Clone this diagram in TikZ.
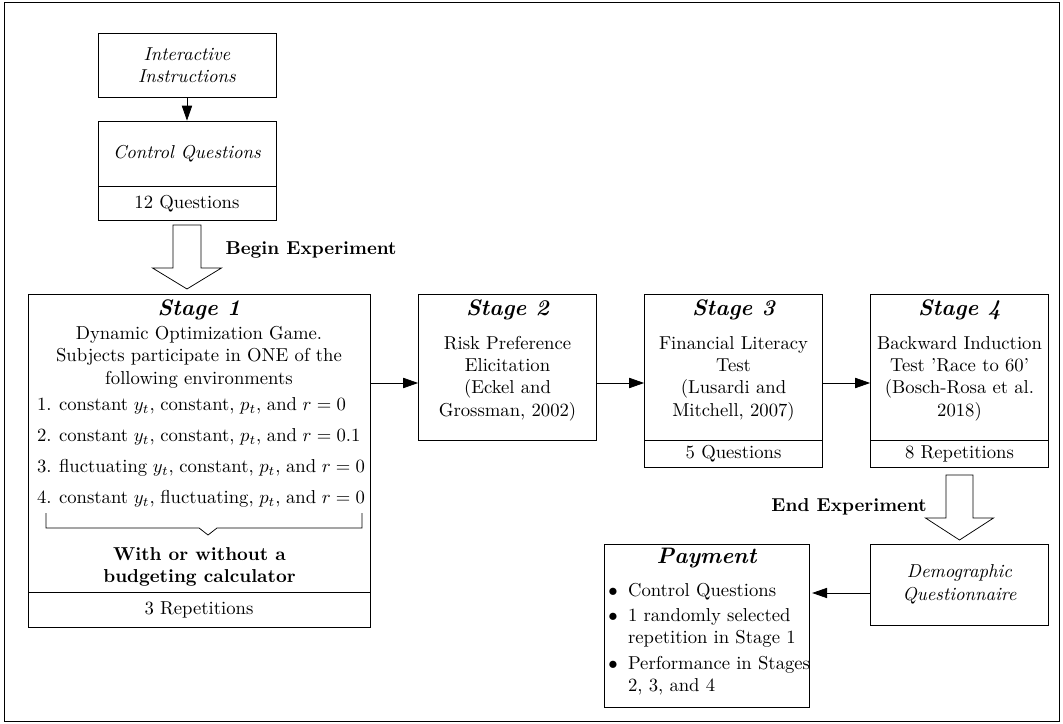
\documentclass[tikz,border=0pt]{standalone}
\usepackage{amsmath}
\usepackage{amssymb}
\usepackage{tikz}
\usetikzlibrary{arrows.meta,positioning}

\begin{document}
\begin{tikzpicture}[>={Triangle[length=8pt,width=5.5pt]},
  box/.style={draw, inner sep=0pt, align=center, minimum width=3.35cm},
  foot/.style={draw, inner sep=0pt, align=center},
  stagetitle/.style={font=\large\bfseries\itshape},
  bigarrow/.style={draw, fill=white, line join=miter}]
  \useasboundingbox (0,0) rectangle (20,13.603);
  \draw (0.075,0.038) rectangle (19.925,13.566);

  % instructions and control questions
  \node[box, minimum height=1.204cm] (instr) at (3.518,12.380) {\textit{Interactive}\\\textit{Instructions}};
  \node[box, minimum height=1.223cm] (ctrl) at (3.518,10.715) {\textit{Control Questions}};
  \node[foot, minimum width=3.35cm, minimum height=0.640cm, below=0pt of ctrl] (ctrlq) {12 Questions};
  \draw[->] (instr) -- (ctrl);

  % begin experiment
  \draw[bigarrow] (3.255,9.370) -- (3.255,8.561) -- (2.869,8.561) -- (3.518,8.166)
    -- (4.167,8.561) -- (3.781,8.561) -- (3.781,9.370) -- cycle;
  \node[anchor=west, font=\bfseries] (begin) at (4.12,8.90) {Begin Experiment};

  % stage 1
  \node[box, minimum width=6.434cm, minimum height=5.607cm] (s1) at (3.744,5.269) {};
  \node[foot, minimum width=6.434cm, minimum height=0.659cm, below=0pt of s1] (s1q) {3 Repetitions};
  \node[stagetitle] (s1t) at (3.744,7.771) {Stage 1};
  \node[align=center] (s1d) at (3.744,6.88) {Dynamic Optimization Game.\\Subjects participate in ONE of the\\following environments};
  \node[anchor=west, inner sep=0pt] (s1list) at (0.69,5.089) {\spaceskip=3pt plus 1pt minus 1pt%
    \begin{tabular}{@{}r@{\hspace{4pt}}l@{}}
      1. & constant $y_t$, constant, $p_t$, and $r=0$\\[4.5pt]
      2. & constant $y_t$, constant, $p_t$, and $r=0.1$\\[4.5pt]
      3. & fluctuating $y_t$, constant, $p_t$, and $r=0$\\[4.5pt]
      4. & constant $y_t$, fluctuating, $p_t$, and $r=0$
    \end{tabular}};
  \draw (0.866,3.951) -- (0.866,3.669) -- (3.745,3.669) -- (3.914,3.537)
    -- (4.083,3.669) -- (6.811,3.669) -- (6.811,3.951);
  \node[align=center, font=\bfseries] (s1c) at (3.753,2.935) {With or without a\\budgeting calculator};

  % stage 2
  \node[box, minimum height=2.747cm] (s2) at (9.549,6.699) {};
  \node[stagetitle] (s2t) at (9.549,7.771) {Stage 2};
  \node[align=center] (s2d) at (9.549,6.482) {Risk Preference\\Elicitation\\(Eckel and\\Grossman, 2002)};

  % stage 3
  \node[box, minimum height=2.747cm] (s3) at (13.801,6.699) {};
  \node[foot, minimum width=3.35cm, minimum height=0.508cm, below=0pt of s3] (s3q) {5 Questions};
  \node[stagetitle] (s3t) at (13.801,7.771) {Stage 3};
  \node[align=center] (s3d) at (13.801,6.482) {Financial Literacy\\Test\\(Lusardi and\\Mitchell, 2007)};

  % stage 4
  \node[box, minimum height=2.747cm] (s4) at (18.053,6.699) {};
  \node[foot, minimum width=3.35cm, minimum height=0.508cm, below=0pt of s4] (s4q) {8 Repetitions};
  \node[stagetitle] (s4t) at (18.053,7.771) {Stage 4};
  \node[align=center] (s4d) at (18.053,6.482) {Backward Induction\\Test 'Race to 60'\\(Bosch-Rosa et al.\\2018)};

  \coordinate (row) at (0,6.397);
  \draw[->] (s1.east |- row) -- (s2.west |- row);
  \draw[->] (s2.east |- row) -- (s3.west |- row);
  \draw[->] (s3.east |- row) -- (s4.west |- row);

  % end experiment
  \draw[bigarrow] (17.799,4.666) -- (17.799,3.857) -- (17.413,3.857) -- (18.053,3.443)
    -- (18.693,3.857) -- (18.307,3.857) -- (18.307,4.666) -- cycle;
  \node[anchor=east, font=\bfseries] (end) at (17.56,4.064) {End Experiment};

  % questionnaire and payment
  \node[box, minimum height=1.524cm] (demo) at (18.053,2.606) {\textit{Demographic}\\\textit{Questionnaire}};
  \node[box, minimum width=3.857cm, minimum height=3.067cm] (pay) at (13.293,1.835) {};
  \node[stagetitle] (payt) at (13.293,3.104) {Payment};
  \node[anchor=west, inner sep=0pt] (payl) at (11.44,1.571) {%
    \begin{tabular}{@{}c@{\hspace{5.5pt}}l@{}}
      $\bullet$ & Control Questions\\[1.5pt]
      $\bullet$ & 1 randomly selected\\
                & repetition in Stage 1\\[1.5pt]
      $\bullet$ & Performance in Stages\\
                & 2, 3, and 4
    \end{tabular}};
  \coordinate (payrow) at (0,2.446);
  \draw[->] (demo.west |- payrow) -- ([xshift=1.5pt]pay.east |- payrow);
\end{tikzpicture}
\end{document}
